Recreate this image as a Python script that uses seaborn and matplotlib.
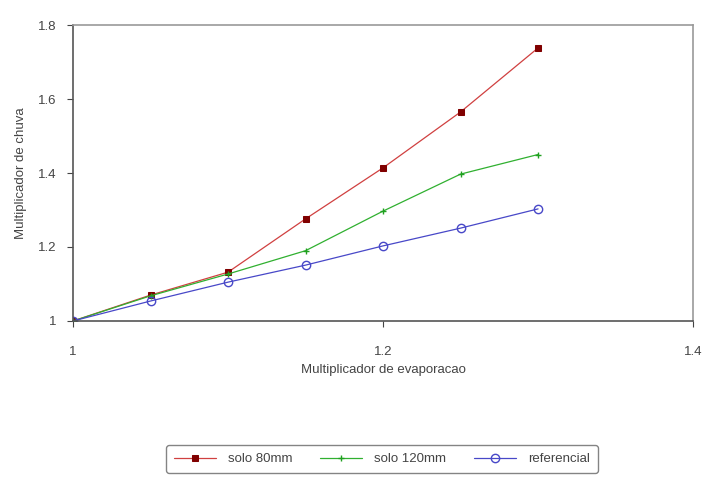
import pandas as pd
import matplotlib.pyplot as plt
import seaborn as sns

# data
evap = [1.0, 1.05, 1.1, 1.15, 1.2, 1.25, 1.3]
solo_80 = [1.0, 1.07, 1.132, 1.276, 1.414, 1.565, 1.738]
solo_120 = [1.0, 1.068, 1.127, 1.19, 1.297, 1.397, 1.45]
referencial = [1.0, 1.054, 1.105, 1.151, 1.203, 1.251, 1.303]

sns.set_theme(style="white")
plt.rcParams['font.family'] = ['Liberation Sans', 'DejaVu Sans']

fig = plt.figure(figsize=(7.07, 4.84), dpi=100)
ax = fig.add_axes([0.1033, 0.3368, 0.877, 0.6115])

sns.lineplot(x=evap, y=solo_80, ax=ax, color='#d04040', linewidth=0.9,
             marker='s', markersize=5, markerfacecolor='#800000',
             markeredgecolor='#800000', label='solo 80mm')
sns.lineplot(x=evap, y=solo_120, ax=ax, color='#30b030', linewidth=0.9,
             marker='+', markersize=5, markeredgewidth=1,
             markeredgecolor='#20a020', label='solo 120mm')
sns.lineplot(x=evap, y=referencial, ax=ax, color='#4848c8', linewidth=0.9,
             marker='o', markersize=6, markerfacecolor='none',
             markeredgecolor='#4848c8', markeredgewidth=1, label='referencial')

ax.set_xlim(1, 1.4)
ax.set_ylim(1, 1.8)
ax.set_xticks([1, 1.2, 1.4])
ax.set_xticklabels(['1', '1.2', '1.4'])
ax.set_yticks([1, 1.2, 1.4, 1.6, 1.8])
ax.set_yticklabels(['1', '1.2', '1.4', '1.6', '1.8'])
ax.tick_params(axis='both', labelsize=9.5, colors='#444444', length=4,
               width=0.8, direction='out', bottom=True, left=True)
ax.tick_params(axis='x', pad=14)
ax.tick_params(axis='y', pad=8)

for side in ['left', 'bottom']:
    ax.spines[side].set_color('#555555')
    ax.spines[side].set_linewidth(1.2)
for side in ['top', 'right']:
    ax.spines[side].set_color('#999999')
    ax.spines[side].set_linewidth(1.2)

ax.set_xlabel('Multiplicador de evaporacao', fontsize=9.5, color='#444444', labelpad=4)
ax.set_ylabel('Multiplicador de chuva', fontsize=9.5, color='#444444', labelpad=8)

ax.legend(loc='center', bbox_to_anchor=(382 / 707, 1 - 459 / 484),
          bbox_transform=fig.transFigure, ncol=3, fontsize=9.5,
          frameon=True, fancybox=True, edgecolor='#666666',
          handlelength=3.2, columnspacing=2.1, handletextpad=0.9,
          labelcolor='#444444', borderpad=0.6)

plt.savefig('out.png', dpi=100)
